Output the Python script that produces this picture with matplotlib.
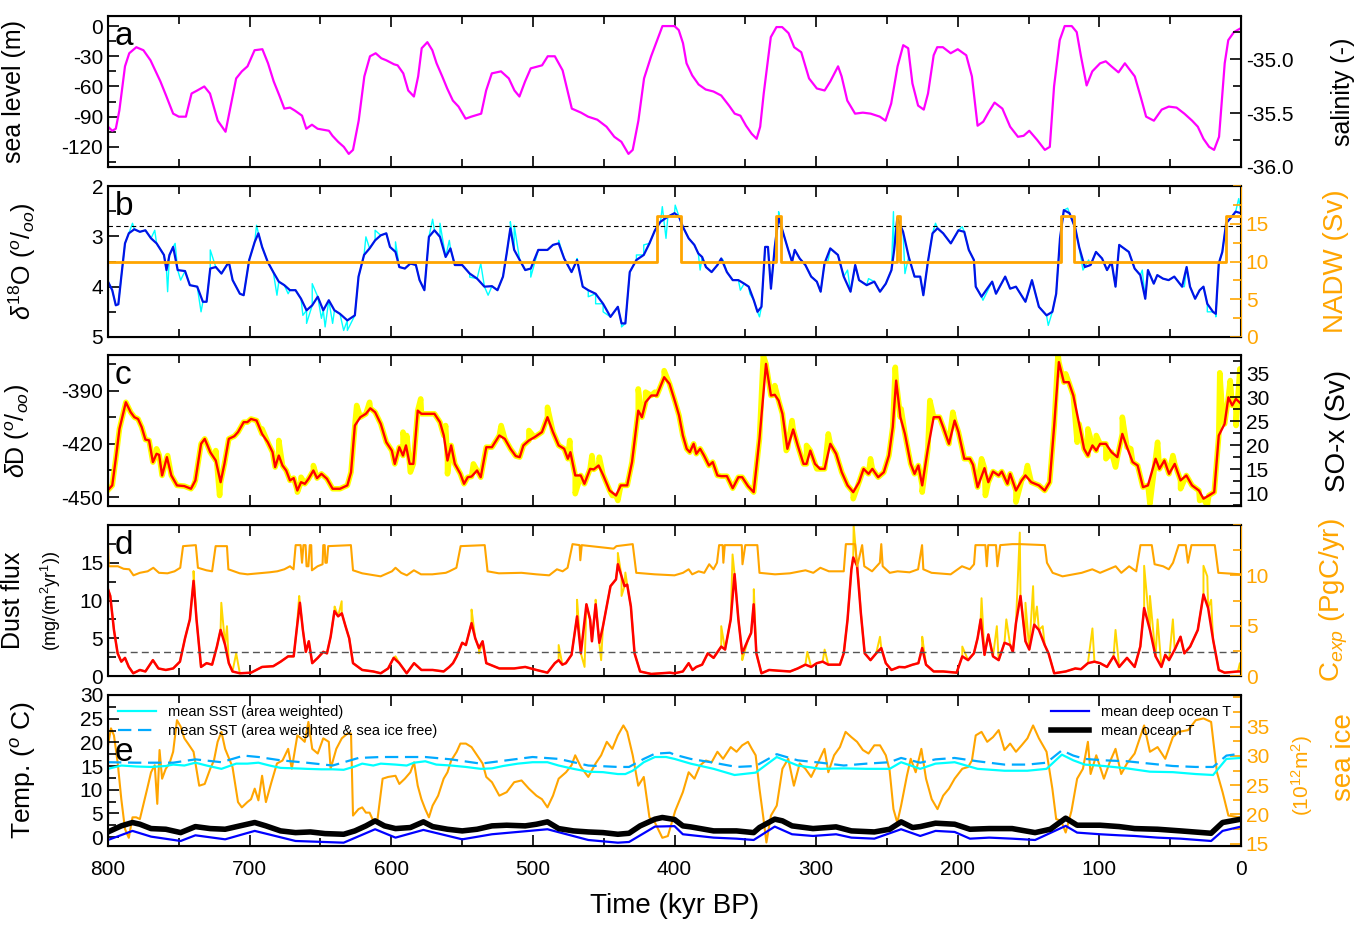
import numpy as np
import matplotlib
matplotlib.use('Agg')
import matplotlib.pyplot as plt
from matplotlib.ticker import MultipleLocator, FormatStrFormatter

plt.rcParams['font.family'] = ['Liberation Sans', 'DejaVu Sans']
plt.rcParams['mathtext.fontset'] = 'custom'
plt.rcParams['mathtext.rm'] = 'Liberation Sans'
plt.rcParams['mathtext.it'] = 'Liberation Sans:italic'
plt.rcParams['axes.unicode_minus'] = False

# ---- a: sea level (m) ----
sl_t = [800, 797, 794.5, 792, 788, 785, 780, 775, 770, 763, 759, 754, 750, 745, 741, 737, 732, 728, 722.5, 717,
        713, 709.5, 705.5, 701.5, 696.5, 691, 687, 683, 679, 675.5, 671.5, 668, 663, 660, 656, 652, 644, 641.5,
        637.5, 633.5, 630, 627, 623, 619, 615, 611, 607, 603.5, 598, 595.5, 591.5, 588, 584, 581, 578.5, 574.5,
        571, 568, 564, 560.5, 556.5, 552.5, 547.5, 543.5, 536.5, 533, 529, 522.5, 517, 513, 509.5, 505.5, 501.5,
        496, 493.5, 489.5, 484.5, 479, 472.5, 466, 461, 454.5, 448, 442.5, 437.5, 432.5, 429.5, 425.5, 421.5,
        416.5, 408.5, 400, 397, 394, 391.5, 387.5, 383, 378, 372.5, 367, 361.5, 357.5, 353.5, 349.5, 345.5, 342,
        339.5, 337, 332, 328, 324, 319.5, 315.5, 310.5, 305, 299.5, 294, 290, 284.5, 282, 278, 272.5, 267, 261.5,
        255, 251, 247, 242.5, 238.5, 235, 232, 228, 224, 221, 217, 214.5, 210.5, 205, 200, 194, 190, 186, 182,
        178, 174, 168.5, 163, 157.5, 153.5, 149.5, 144, 138.5, 135, 132, 128, 124.5, 119.5, 116, 113, 109, 105,
        99.5, 95.5, 91.5, 86.5, 82, 75, 70.5, 67, 61.5, 56, 51, 45.5, 40, 34.5, 30.5, 26.5, 22.5, 19, 15.5, 11.5,
        9, 5, 0]
sl_v = [-100, -104, -102, -84, -40, -27, -21, -24, -34, -55, -69, -87, -90, -90, -67, -64, -60, -67, -94, -105,
        -77, -52, -45, -40, -24, -23, -37, -55, -69, -82, -81, -84, -89, -102, -98, -102, -104, -109, -115, -120,
        -127, -123, -94, -50, -30, -27, -32, -34, -38, -39, -47, -64, -70, -50, -22, -16, -24, -37, -50, -62,
        -74, -80, -92, -90, -87, -64, -47, -45, -52, -64, -70, -55, -42, -40, -39, -30, -30, -44, -82, -86, -90,
        -93, -100, -110, -115, -127, -123, -94, -52, -30, 0, 0, -4, -17, -37, -49, -58, -63, -65, -69, -79, -87,
        -89, -99, -107, -112, -100, -67, -11, -1, -1, -7, -21, -26, -52, -62, -64, -55, -40, -50, -74, -87, -86,
        -87, -90, -94, -77, -40, -19, -22, -57, -79, -83, -67, -29, -21, -21, -27, -23, -29, -50, -99, -95, -85,
        -76, -82, -100, -110, -109, -104, -113, -123, -120, -60, -14, 0, 0, -6, -30, -59, -45, -37, -35, -40, -46,
        -37, -50, -72, -90, -94, -83, -80, -81, -87, -94, -100, -112, -120, -123, -110, -37, -14, -6, -2]

# ---- b: d18O (permil), NADW (Sv) ----
d18_t = [800, 797, 794.5, 792.7, 790.6, 788, 785.3, 781.4, 777.5, 773.6, 769.6, 765.7, 760.5, 758.7, 756.6, 754,
         750.8, 745.6, 742.2, 737, 733, 730.4, 727.8, 723.9, 719.9, 714.7, 712, 706.9, 704.2, 700.3, 696.4, 693.8,
         691.2, 687.2, 683.3, 679.4, 675.5, 671.5, 667.6, 663.7, 659.8, 655.8, 651.9, 648, 644.1, 640.1, 636.2,
         631, 625.7, 623.1, 619.2, 615.3, 611.4, 607.4, 603.5, 600.9, 597, 594.3, 590.4, 586.5, 582.6, 580, 576.6,
         573.4, 569.5, 565.6, 561.6, 558.2, 555.1, 549.9, 544.6, 539.4, 534.2, 528.9, 525, 521.1, 518.5, 515.9,
         513.2, 509.3, 505.4, 501.5, 496.2, 489.7, 485.8, 481.8, 477.9, 472.7, 468.8, 464.8, 460.9, 455.7, 450.4,
         445.2, 440, 437.4, 434.7, 431.6, 426.9, 421.7, 417.7, 413.8, 409.9, 404.7, 400, 396.8, 394.1, 390, 386,
         383.2, 380.5, 377.8, 373.8, 369.7, 367, 363, 358.9, 354.9, 350.8, 347.6, 344, 341.4, 338.6, 336, 334,
         331.9, 329.2, 326.5, 323.8, 319.7, 317, 315.1, 311.6, 307.6, 303.5, 299.5, 296.8, 294.1, 290, 284.6,
         280.5, 275.7, 272.4, 269.7, 264.3, 258.9, 254.9, 250.8, 246.8, 244.9, 242.7, 238.6, 234.6, 230.5, 226.5,
         224.3, 221.1, 217.8, 214.3, 210.3, 204.9, 199.5, 195.4, 192.2, 188.6, 187.3, 183.2, 175.7, 173, 166.5,
         163, 158.9, 152.2, 147.6, 142.7, 137.3, 133.2, 130.5, 127.8, 125.1, 121.1, 117, 114.3, 110.3, 106.2,
         102.4, 98.1, 94.6, 91.4, 88.6, 86, 79.2, 75.1, 71.1, 67.6, 65.7, 61.6, 59.1, 55.1, 51.1, 47.1, 41.6,
         38.4, 36, 32.4, 29.2, 26.5, 23.8, 19.8, 17.8, 15.7, 13.2, 10.5, 6.5, 3.8, 0]
d18_v = [3.90, 4.07, 4.37, 4.35, 3.80, 3.14, 2.94, 2.86, 2.91, 2.88, 3.04, 3.14, 3.37, 3.67, 3.37, 3.21, 3.67,
         3.69, 3.97, 4.00, 4.30, 4.30, 3.64, 3.61, 3.74, 3.51, 3.87, 4.14, 4.17, 3.47, 3.11, 2.94, 3.21, 3.51,
         3.71, 3.90, 3.97, 4.07, 4.07, 4.24, 4.47, 4.37, 4.20, 4.47, 4.27, 4.47, 4.54, 4.67, 4.57, 3.80, 3.37,
         3.24, 3.08, 2.98, 2.94, 3.21, 3.31, 3.61, 3.64, 3.54, 3.57, 3.87, 4.07, 3.01, 2.88, 3.01, 3.41, 3.24,
         3.57, 3.57, 3.74, 3.84, 4.00, 3.99, 4.07, 3.80, 3.34, 2.84, 3.27, 3.47, 3.67, 3.64, 3.27, 3.27, 3.17,
         3.14, 3.44, 3.71, 3.47, 4.00, 4.07, 4.14, 4.34, 4.60, 4.40, 4.73, 4.73, 3.71, 3.47, 3.37, 3.14, 2.88,
         2.71, 2.61, 2.54, 2.61, 2.81, 3.04, 3.17, 3.34, 3.41, 3.61, 3.71, 3.57, 3.44, 3.71, 3.87, 3.87, 3.94,
         4.00, 4.27, 4.50, 4.40, 3.21, 3.21, 4.04, 3.21, 2.61, 2.88, 3.27, 3.51, 3.27, 3.44, 3.57, 3.80, 3.90,
         4.10, 3.54, 3.24, 3.37, 3.80, 4.10, 3.57, 3.87, 3.97, 3.90, 4.10, 3.94, 3.67, 3.27, 2.64, 2.91, 3.41,
         3.80, 3.80, 4.17, 3.51, 2.94, 2.84, 2.94, 3.14, 2.88, 2.91, 3.27, 3.47, 4.00, 4.20, 3.90, 4.14, 3.80,
         4.04, 4.00, 4.30, 3.87, 4.40, 4.57, 4.50, 4.14, 3.04, 2.48, 2.54, 2.84, 3.21, 3.61, 3.57, 3.31, 3.44,
         3.67, 3.51, 4.00, 3.17, 3.31, 3.64, 3.77, 4.24, 3.67, 3.94, 3.77, 3.84, 3.87, 3.80, 4.00, 3.61, 4.00,
         4.24, 4.07, 4.00, 4.34, 4.50, 4.54, 3.54, 3.31, 2.74, 2.61, 2.51, 2.54]
# raw (unsmoothed) record: extra excursions around the smoothed curve
d18raw_t = [782.7, 767, 757.9, 752.6, 748.7, 734.3, 727.8, 695.1, 680.7, 672.8, 662.4, 659.8, 655.8, 649.3,
            646.7, 641.4, 633.6, 631, 617.9, 611.4, 597, 570.8, 565.6, 559, 544.6, 536.8, 531.6, 515.9, 513.2,
            501.5, 481.8, 468.8, 460.9, 455.7, 450.4, 437.4, 426.9, 421.7, 408.6, 406, 399.5, 381.9, 365.7,
            353.5, 346.8, 340, 326.5, 291.4, 277.8, 263, 245.4, 237.3, 215.7, 196.8, 182.2, 149.5, 136.1, 122.4,
            111.6, 107.6, 69.7, 40, 23.8, 17.8, 1.6]
d18raw_v = [2.74, 2.88, 4.10, 3.14, 3.87, 4.50, 3.27, 2.78, 4.17, 4.14, 4.57, 4.73, 3.94, 4.63, 4.80, 4.73,
            4.87, 4.87, 3.01, 2.88, 3.11, 2.66, 2.74, 3.08, 3.81, 3.54, 4.17, 2.71, 2.78, 3.81, 3.08, 3.44, 4.20,
            4.34, 4.50, 4.80, 3.37, 3.17, 2.41, 3.04, 2.38, 3.67, 3.47, 4.07, 4.14, 4.60, 2.51, 3.47, 3.67, 3.84,
            2.51, 3.74, 2.74, 2.81, 4.27, 4.07, 4.77, 2.44, 3.67, 3.47, 3.67, 4.00, 4.50, 4.60, 2.25]
nadw_t = [800, 412.5, 395.4, 328.4, 324.6, 243.2, 240.5, 127.3, 117.6, 10.8, 0]
nadw_v = [10, 16, 10, 16, 10, 16, 10, 16, 10, 16, 16]
d18_ref = 2.8

# ---- c: dD (permil) ----
dD_t = [800, 797, 794.5, 791.9, 787.4, 784, 781.4, 778.8, 776.2, 773.6, 771, 768.3, 765.7, 763.9, 761.8, 758.4,
        755.3, 751.3, 746.1, 741.4, 738.3, 734.3, 731.7, 727.8, 723.9, 720.5, 717.8, 714.7, 710.8, 708.2, 704.2,
        701.6, 699, 695.1, 691.2, 687.2, 683.8, 682, 679.4, 676.8, 674.2, 671.5, 668.9, 666.3, 663.7, 661, 658.4,
        655, 652.4, 649.3, 645.4, 641.4, 636.2, 631, 628.4, 625.7, 621.8, 617.9, 614.8, 611.4, 607.4, 603.5,
        599.6, 597.5, 594.3, 591.7, 589.6, 587, 584.4, 581.3, 578.7, 573.4, 569.5, 565.6, 562.9, 560.3, 557.7,
        555.1, 551.2, 548.6, 546, 543.3, 539.4, 536.8, 532.9, 528.9, 523.7, 519.8, 515.8, 512.1, 509.3, 506.7,
        502.8, 498.9, 493.6, 489.7, 485.8, 481.8, 477.9, 475.3, 473.5, 470.1, 466.2, 463.6, 459.6, 457, 453.6,
        450.5, 445.8, 441.3, 437.9, 433.4, 430, 425.6, 423, 420.4, 416.4, 412.5, 407.3, 403.5, 399.5, 396.8,
        394.1, 391.4, 389.2, 386.5, 384.6, 381.9, 379.2, 375.7, 373, 369.7, 367, 363, 358.9, 354.9, 352.2, 348.1,
        344.1, 340, 335.4, 331.9, 329.2, 326.5, 323.8, 320.3, 316.2, 313, 308.9, 306.8, 304.1, 300.8, 297.3, 294,
        290, 285.9, 281.9, 277.8, 273.8, 269.7, 266.5, 263, 260.3, 256.2, 252.2, 248.6, 245.9, 243.5, 240.5,
        237.3, 233.2, 230.5, 227.8, 225.1, 221.1, 217, 212.9, 210.3, 206.2, 202.2, 199.5, 195.4, 191.4, 189.2,
        186, 181.1, 178.4, 175.1, 171.1, 168.9, 164.9, 163, 158.9, 154.9, 152.2, 148.1, 142.7, 138.6, 135.1,
        131.9, 128.6, 125.1, 121.6, 118.4, 114.3, 110.8, 108.1, 104.9, 102.2, 99.5, 95.4, 91.4, 87.3, 83.8, 80.5,
        76.5, 73, 69.2, 65.7, 60.3, 57.6, 54.1, 50.8, 46.8, 42.7, 38.6, 34.6, 29.7, 26.5, 22.7, 18.9, 15.7, 11.6,
        8.9, 6.2, 3.6, 0]
dD_v = [-446, -443.4, -428.4, -411.6, -396.6, -402.2, -405, -406, -410.6, -417.6, -418.1, -430.3, -425.6, -426.2,
        -437.8, -427.5, -437.8, -443.4, -443.8, -445.3, -440.6, -420, -417.2, -424.7, -429.4, -441.6, -431.3,
        -417.2, -415.7, -413.4, -407.8, -407.8, -406, -406.9, -414.4, -419.1, -424.7, -433.1, -426.6, -432.2,
        -435, -440.6, -439.3, -446.3, -441.6, -442.5, -439.7, -435, -439.3, -436.9, -439.7, -445.3, -445.3,
        -443.4, -436, -409.7, -405, -403.1, -400, -402.2, -408.8, -419.1, -423.8, -431.3, -421.9, -426.6, -420.9,
        -431.3, -431.3, -401.3, -403.1, -403.1, -403.1, -407.8, -415.3, -429.4, -420.9, -431.3, -436.9, -442.5,
        -438.8, -438.4, -435, -438.8, -421.9, -421.9, -415.3, -417.2, -422.8, -426.9, -427.5, -420.9, -418.1,
        -416.3, -413.4, -405, -413.4, -420.9, -422.8, -428.4, -424.7, -437.8, -437.8, -442.5, -434.1, -434.4,
        -432.2, -437.4, -446.3, -449.1, -443.4, -443.4, -430.3, -401.3, -405, -396.6, -392.8, -392.8, -382.5,
        -386.3, -396.6, -404, -415.3, -422.8, -424.7, -420, -425.6, -422.8, -426.6, -432.2, -430.3, -437.8,
        -438.2, -438.2, -445, -438.8, -438.8, -443.8, -447.2, -417.2, -375, -392.8, -392.4, -395.6, -403.1,
        -422.8, -411.9, -420.9, -431.3, -431.3, -423.8, -431.3, -434.1, -434.1, -420, -425.6, -436, -443.4,
        -447.2, -441.6, -434.1, -436.9, -434.1, -438.8, -436, -426.6, -410.6, -384.4, -405, -414.4, -431.3,
        -436.9, -432.2, -443.4, -422.8, -405, -405, -410.6, -420, -406.9, -413.4, -428.4, -428.4, -431.8,
        -444.4, -433.7, -441.6, -435.6, -437.8, -435.6, -442.5, -436.9, -446.3, -440.6, -437.8, -441.6, -443.4,
        -446.3, -441.6, -409.7, -374, -385.3, -385.3, -392.8, -408.8, -422.8, -426.6, -420.9, -423.8, -420,
        -420, -424.7, -427.5, -414.4, -421.9, -430.3, -432.2, -444.4, -443.4, -428.4, -434.1, -429.4, -436.9,
        -431.3, -440.6, -437.8, -443.4, -446.3, -450.9, -449.1, -447.2, -415.3, -408.8, -393.8, -398.4, -394.7,
        -397.5]
# SO-x record shown on the same scale, with its extra excursions
sox_t = [765.7, 757.9, 739.6, 723.9, 721.2, 691.2, 679.4, 666.3, 663.7, 655, 624.4, 615.3, 591.7, 589.1, 586.5,
         579.2, 561.6, 560.3, 542, 522.4, 502.8, 489.7, 474, 470.1, 458.3, 453.1, 443.9, 440, 425.6, 420.4, 413.8,
         407.3, 337.3, 329.2, 321.1, 317, 306.8, 299.5, 291.4, 273.8, 261.6, 244.1, 240, 225.1, 219.7, 203.5,
         196.8, 183.2, 180.5, 158.9, 150.8, 129.2, 123.8, 115.7, 108.1, 102.2, 95.4, 88.6, 83.8, 77.8, 64.3, 58.9,
         48.1, 42.7, 29.2, 23.8, 15, 13, 7.6, 3.5, 0.8]
sox_v = [-422.8, -426.6, -443.4, -423.8, -449.1, -411.6, -418.1, -447.2, -438.8, -432.2, -398.4, -396.6, -413.4,
         -415.3, -435.9, -394.7, -409.7, -436.9, -431.3, -409.7, -412.5, -399.4, -418.1, -448.1, -426.6, -427.5,
         -449.1, -451.9, -389.1, -390.9, -390.9, -378.8, -370.3, -387.2, -423.8, -406.9, -420.9, -434.1, -414.4,
         -450.9, -428.4, -376.9, -400.3, -447.2, -395.6, -402.2, -422.8, -428.4, -449.1, -452.8, -432.2, -369.4,
         -380.6, -419.1, -411.6, -415.3, -428.4, -433.1, -405.0, -422.8, -453.8, -419.1, -426.6, -445.3, -451.9,
         -454.7, -380, -404.1, -384.4, -409.7, -377.8]

# ---- d: dust flux, C_exp ----
dust_t = [800, 798.4, 795.8, 793.2, 790.6, 788, 785.3, 782.2, 777.5, 773.6, 768.3, 764.4, 759.2, 754, 749.2,
          745.6, 742.2, 739.6, 737.5, 734.3, 730.4, 726.5, 723.1, 720.5, 717.3, 714.7, 712.1, 706.9, 699, 691.2,
          683.3, 678.1, 672.8, 668.9, 666.8, 664.5, 662.4, 660.3, 658.2, 655.8, 651.9, 648, 645.4, 642.8, 640.1,
          637.5, 634.9, 632.3, 629.7, 627, 620.5, 612.7, 607.4, 602.2, 598.3, 594.3, 589.1, 583.9, 578.7, 570.8,
          563, 559, 556.4, 553.8, 549.9, 547.3, 543.3, 540.7, 538.1, 535.5, 532.9, 523.7, 513.2, 505.4, 497.5,
          489.7, 484.5, 481.8, 479.2, 476.7, 472.7, 468.8, 466.1, 462.2, 459.6, 458.3, 455.7, 453.1, 450.5, 445.2,
          441.3, 440, 437.4, 435.3, 433.4, 430.8, 428.2, 424.3, 416.4, 403.3, 400, 394.1, 390, 387.3, 384.6, 380.5,
          376.5, 372.4, 367, 364.3, 360.3, 357.6, 354.9, 352.2, 348.1, 345.9, 344.1, 342.2, 338.6, 333.2, 326.5,
          318.4, 313, 307.6, 303.5, 299.5, 295.4, 291.4, 283.2, 280.5, 277.8, 275.1, 273.8, 271.1, 268.4, 265.7,
          261.6, 257.6, 254, 250.8, 246.8, 241.4, 237.3, 231.9, 227.8, 225.1, 222.4, 217, 210.3, 200.8, 196.8,
          192.7, 188.6, 186, 183.8, 181.1, 178.4, 175.1, 171.1, 167, 163, 161.1, 158.9, 155.7, 152.2, 149.5, 146,
          142.7, 138.6, 135.9, 131.9, 123.8, 117, 113, 108.1, 103.5, 99.5, 94.6, 90, 86, 80.5, 75.1, 71.1, 68.4,
          64.3, 60.3, 56.2, 53.5, 50.8, 46.8, 42.7, 40, 35.9, 30.5, 26.5, 23.2, 19.7, 15.7, 11.6, 2.2, 0]
dust_v = [11.5, 10.6, 6.1, 3.0, 1.9, 2.4, 1.2, 0.36, 0.8, 0.6, 2.1, 1.0, 0.8, 1.0, 1.9, 5.0, 7.5, 12.6, 7.5, 1.2,
          1.7, 1.5, 3.9, 6.1, 4.1, 1.7, 0.6, 0.36, 0.44, 1.2, 1.3, 1.9, 2.6, 2.6, 6.1, 9.7, 6.1, 3.2, 4.6, 1.7, 2.4,
          3.2, 3.0, 5.2, 8.6, 7.9, 8.3, 6.6, 5.0, 1.7, 0.8, 0.6, 0.36, 1.0, 2.4, 1.7, 0.36, 1.7, 0.8, 0.8, 0.6, 1.2,
          1.7, 2.6, 4.4, 4.1, 7.0, 5.0, 3.7, 4.6, 1.7, 1.0, 1.0, 1.2, 0.8, 0.44, 1.7, 2.1, 1.5, 1.7, 2.8, 7.9, 3.0,
          9.5, 7.5, 4.6, 9.5, 4.4, 6.6, 11.9, 12.8, 14.8, 13.2, 11.9, 12.1, 9.2, 3.0, 0.6, 0.27, 0.44, 0.36, 0.6,
          1.7, 0.8, 1.2, 1.5, 3.0, 2.4, 3.9, 3.5, 7.5, 13.5, 7.5, 3.0, 4.8, 5.7, 9.5, 3.0, 0.36, 0.8, 0.7, 0.6, 1.0,
          1.5, 1.2, 1.7, 1.9, 1.5, 1.5, 3.0, 7.5, 14.1, 15.7, 14.6, 8.3, 3.0, 2.1, 3.0, 3.7, 1.7, 0.8, 1.2, 1.15,
          1.5, 1.7, 3.7, 1.5, 0.6, 0.6, 0.44, 2.6, 2.1, 3.0, 5.0, 7.5, 2.8, 5.5, 2.6, 2.1, 4.4, 4.1, 3.2, 7.0,
          10.6, 4.6, 3.5, 6.8, 6.1, 4.1, 3.0, 0.36, 0.6, 1.0, 0.9, 1.7, 1.9, 1.7, 1.2, 2.6, 1.2, 2.4, 1.2, 3.9,
          9.0, 6.1, 2.6, 1.2, 2.8, 2.1, 3.5, 5.2, 3.0, 3.9, 6.1, 10.8, 9.0, 4.8, 0.8, 0.44, 0.6, 0.6]
dustraw_t = [739.6, 720, 716, 709.5, 665, 640, 635, 597, 543.3, 538, 481.8, 468.8, 463.5, 455.7, 451.8, 440,
             437.4, 434.7, 367, 359, 352.2, 344, 306.2, 294, 273.5, 269.7, 254.9, 225.1, 196.8, 183.2, 172.4,
             165.7, 156.2, 152.2, 146.8, 144.1, 140, 104.9, 88.6, 68.4, 64.3, 58.9, 48.1, 26.5, 23.8, 21.1, 0.8]
dustraw_v = [13.9, 9.7, 6.6, 3.0, 10.6, 9.2, 9.9, 2.6, 8.8, 3.0, 4.1, 10.1, 1.2, 10.1, 2.1, 16.3, 10.6, 13.7,
             6.6, 16.1, 2.1, 11.5, 3.2, 3.5, 20.0, 11.9, 5.2, 5.2, 3.9, 10.3, 6.6, 7.5, 19.0, 9.7, 11.9, 9.2, 6.6,
             6.3, 6.1, 14.6, 10.6, 7.5, 7.5, 14.6, 13.2, 10.1, 1.7]
cexp_t = [800, 799.5, 793, 789, 785, 782, 777.5, 772, 768, 764, 758, 753, 749, 747, 738, 736.5, 730.5, 726.5, 724,
          716, 715, 711, 707, 701.5, 694, 686, 680.5, 675.5, 671.5, 669, 667.5, 664, 663, 662, 660.5, 659.8, 658.5,
          657.5, 656.5, 656, 652, 648.5, 648, 647, 646.5, 645.5, 644.5, 628.5, 627, 620.5, 607.5, 599.5, 597, 593,
          589, 584, 579, 571, 561.5, 559, 554, 551, 534, 532, 524, 508, 497.5, 488.5, 483, 479, 475.5, 472, 467,
          466.5, 465.5, 443, 441, 429.5, 427, 414, 400, 394, 390, 387.5, 383, 379, 375.5, 372.5, 370, 368.5, 366,
          365.5, 364.5, 352.5, 352, 350, 341.5, 340, 329, 318.5, 307.5, 302, 297, 291, 280.5, 279, 272.5, 271,
          267.5, 266, 260.5, 255, 254, 253, 248, 242.5, 234, 228, 225.2, 224.3, 218.5, 205, 197, 191.5, 188.5,
          187.5, 180.5, 179.5, 178.5, 173, 172, 170, 161.5, 156, 138.5, 137, 133, 126, 112.5, 105, 99.5, 88.5,
          84.5, 79, 74, 71, 63, 61, 55, 51, 48, 44, 39, 37.5, 35, 18.5, 16, 0]
cexp_v = [13.1, 10.9, 10.9, 10.65, 10.6, 10.0, 10.25, 10.4, 10.75, 10.25, 10.2, 10.4, 10.75, 12.9, 13.0, 10.75,
          10.5, 10.4, 12.9, 12.9, 10.6, 10.4, 10.2, 10.1, 10.2, 10.3, 10.4, 10.6, 10.9, 10.6, 13.0, 13.0, 11.25,
          13.0, 13.0, 10.9, 10.9, 13.0, 13.0, 10.5, 10.9, 11.1, 13.0, 13.0, 11.25, 11.25, 12.9, 13.0, 10.5, 10.2,
          9.9, 10.4, 10.75, 10.25, 10.0, 10.5, 10.1, 10.1, 10.25, 10.4, 10.75, 12.9, 13.0, 10.4, 10.2, 10.25, 10.1,
          10.0, 10.6, 10.4, 10.75, 13.1, 13.0, 11.5, 13.0, 12.65, 12.9, 13.1, 10.25, 10.1, 10.0, 10.25, 10.6,
          10.1, 10.4, 10.25, 11.1, 10.6, 11.25, 13.0, 13.0, 11.25, 13.0, 13.0, 11.1, 13.0, 13.0, 10.25, 10.1,
          10.2, 10.5, 10.25, 10.75, 10.4, 10.4, 13.1, 13.1, 10.9, 13.0, 10.9, 10.4, 11.25, 13.1, 10.9, 10.25,
          10.4, 10.3, 10.6, 13.0, 10.6, 10.25, 10.1, 10.9, 10.6, 11.1, 13.0, 13.0, 10.9, 13.0, 13.0, 10.9, 13.0,
          13.1, 13.1, 13.0, 11.25, 10.25, 9.9, 10.25, 10.6, 10.25, 10.9, 10.25, 10.9, 10.4, 13.0, 13.0, 11.1,
          10.9, 10.6, 11.25, 13.0, 13.0, 11.25, 13.0, 13.0, 10.25, 10.1]
dust_ref = 3.2

# ---- e: temperatures (deg C) and sea ice (1e12 m2) ----
sst_t = [800, 790.6, 780.1, 769.6, 759.2, 754, 746.1, 738.3, 730.4, 719.9, 709.5, 701.6, 693.8, 685.9, 678.1,
         667.6, 659.8, 649.3, 641.4, 633.6, 625.7, 620.5, 612.7, 607.4, 597, 589.1, 583.9, 576, 568.2, 557.7,
         547.3, 536.8, 528.9, 521.1, 510.6, 500.2, 489.7, 481.8, 471.4, 460.9, 450.4, 440, 434.7, 429.5, 421.7,
         413.8, 405.9, 400, 388.6, 372.4, 357.6, 342.7, 327.8, 313, 296.8, 280.5, 264.3, 248.1, 240, 226.5,
         215.7, 202.2, 186, 167, 150.8, 137.3, 126.5, 118.4, 110.3, 96.8, 80.5, 64.3, 48.1, 31.9, 19.7, 10.3, 0]
sst_v = [14.4, 15.1, 14.9, 14.8, 15.0, 15.3, 15.1, 15.7, 15.1, 14.4, 15.5, 15.5, 15.7, 15.1, 14.6, 14.5, 14.4,
         14.3, 14.3, 14.2, 14.9, 15.5, 15.1, 15.5, 15.3, 15.1, 15.7, 16.0, 15.3, 15.1, 14.8, 14.4, 14.5, 15.0,
         15.5, 15.8, 15.8, 15.1, 14.4, 13.8, 13.7, 13.3, 13.3, 14.0, 15.8, 16.9, 16.9, 16.5, 15.5, 14.4, 13.1,
         13.6, 16.9, 15.1, 14.4, 14.5, 14.4, 14.4, 15.8, 14.4, 15.5, 15.8, 14.4, 14.0, 14.0, 14.4, 17.4, 16.2,
         15.3, 15.0, 14.5, 13.8, 13.7, 13.3, 13.1, 16.5, 16.7]
sstf_t = [800, 780.1, 754, 738.3, 719.9, 704.2, 693.8, 678.1, 659.8, 641.4, 623.1, 607.4, 583.9, 576, 557.7, 536.8,
          518.5, 500.2, 481.8, 460.9, 440, 432.1, 421.7, 413.8, 403.3, 400, 388.6, 372.4, 356.2, 342.7, 327.8,
          313, 296.8, 280.5, 264.3, 248.1, 240, 226.5, 215.7, 202.2, 186, 167, 150.8, 137.3, 126.5, 118.4, 110.3,
          96.8, 80.5, 64.3, 48.1, 31.9, 19.7, 10.3, 0]
sstf_v = [15.8, 15.7, 15.7, 16.4, 15.8, 17.2, 16.9, 16.2, 15.7, 15.1, 16.7, 16.9, 16.9, 16.9, 16.4, 15.5, 16.2,
          16.9, 16.5, 15.1, 14.8, 14.8, 16.5, 17.6, 17.8, 17.4, 16.5, 15.7, 14.8, 15.0, 17.5, 16.2, 15.7, 15.1,
          15.5, 15.8, 16.7, 15.7, 16.4, 16.7, 16.0, 15.3, 15.3, 15.7, 18.3, 17.2, 16.5, 16.2, 16.0, 15.5, 15.0,
          14.8, 14.8, 17.2, 17.6]
tocn_t = [800, 790.6, 782.7, 777.5, 769.6, 759.2, 748.7, 738.3, 727.8, 717.3, 706.9, 696.4, 688.5, 678.1, 667.6,
          657.1, 646.7, 633.6, 625.7, 617.9, 611.4, 604.8, 597, 586.5, 577.3, 570.8, 560.3, 549.9, 539.4, 528.9,
          518.5, 505.4, 497.5, 489.7, 481.8, 471.4, 460.9, 450.4, 440, 432.1, 424.3, 413.8, 408.6, 400, 394.1,
          388.6, 372.4, 356.2, 344.1, 340, 329.2, 323.8, 317, 302.2, 285.9, 275.1, 258.9, 248.1, 240, 231.9,
          226.5, 215.7, 202.2, 191.4, 177.8, 161.6, 145.4, 134.6, 123.8, 115.7, 99.5, 86, 75.1, 58.9, 42.7, 21.1,
          13, 0]
tocn_v = [1.07, 2.35, 3.06, 2.7, 1.78, 1.64, 0.93, 2.2, 1.78, 1.64, 2.35, 3.06, 2.35, 1.29, 0.93, 1.07, 0.72,
          0.58, 1.29, 2.35, 3.41, 2.35, 1.78, 2.0, 3.2, 2.2, 1.64, 1.29, 1.64, 2.35, 2.49, 2.35, 2.7, 3.2, 1.78,
          1.29, 1.07, 0.93, 0.58, 0.79, 2.35, 3.77, 4.12, 3.7, 2.35, 2.14, 1.29, 1.29, 0.93, 2.0, 3.77, 3.41, 2.35,
          1.78, 2.14, 1.29, 1.07, 1.64, 3.2, 2.0, 2.2, 2.92, 2.7, 1.64, 1.78, 1.78, 0.93, 1.64, 3.98, 2.49, 2.49,
          2.2, 1.78, 1.64, 1.29, 0.79, 3.06, 3.77]
tdeep_t = [800, 782.7, 769.6, 748.7, 738.3, 717.3, 696.4, 667.6, 633.6, 611.4, 597, 577.3, 549.9, 528.9, 489.7,
           460.9, 440, 432.1, 413.8, 400, 394.1, 372.4, 356.2, 344.1, 329.2, 317, 302.2, 285.9, 275.1, 258.9, 240,
           226.5, 215.7, 202.2, 191.4, 177.8, 161.6, 145.4, 123.8, 115.7, 99.5, 86, 75.1, 58.9, 42.7, 21.1, 13, 0]
tdeep_v = [-0.63, 1.29, 0.08, -0.84, 0.36, -0.49, 1.29, -0.84, -1.2, 1.64, -0.13, 1.5, -0.49, 0.58, 1.64, -0.63,
           -1.2, -1.05, 2.2, 2.3, 0.58, -0.13, -0.35, -0.63, 2.2, 0.58, 0.22, 0.58, -0.13, -0.35, 1.64, 0.22,
           1.29, 1.07, -0.35, -0.13, -0.35, -0.63, 2.35, 0.93, 0.58, 0.36, 0.22, -0.13, -0.35, -0.84, 1.29, 2.2]
ice_t = [800, 797.9, 795.8, 793.2, 790.6, 788, 785.3, 782.7, 780.1, 777.5, 774.9, 772.3, 769.6, 767, 765.2, 763.6,
         761.8, 759.2, 756.6, 754, 751.3, 748.7, 746.1, 743.5, 739.6, 735.6, 731.7, 727.8, 725.2, 722.6, 719.9,
         717.3, 712.1, 708.2, 705.5, 701.6, 699, 696.4, 693.8, 691.2, 688.5, 684.6, 680.7, 676.8, 672.8, 670.2,
         666.3, 663.7, 661.1, 658.5, 655.8, 651.9, 648, 644.1, 642.8, 638.8, 634.9, 631, 628.4, 627, 623.1, 620.5,
         617.9, 615.3, 612.7, 610, 606.1, 602.2, 597, 594.3, 590.4, 586.5, 583.9, 581.3, 578.7, 576, 573.4, 570.8,
         566.9, 563, 560.3, 557.7, 553.8, 551.2, 547.3, 543.3, 539.4, 535.5, 532.9, 528.9, 523.7, 518.5, 513.2,
         508, 502.8, 497.5, 493.6, 489.7, 485.8, 481.8, 476.6, 472.7, 470.1, 466.1, 460.9, 455.7, 451.8, 447.8,
         443.9, 440, 436.1, 433.4, 429.5, 425.6, 421.7, 417.7, 413.8, 408.6, 404.7, 399.5, 394.1, 390, 385.9,
         381.9, 377.8, 373.8, 369.7, 365.7, 360.3, 356.2, 352.2, 348.1, 345.4, 342.7, 340, 337.3, 335.1, 331.9,
         327.8, 323.8, 319.7, 315.7, 311.6, 307.6, 303.5, 299.5, 294.1, 291.4, 287.3, 283.2, 279.2, 275.1, 271.1,
         267, 263, 258.9, 254.9, 250.8, 248.1, 245.4, 242.7, 240, 235.9, 233.2, 229.7, 225.7, 222.4, 218.4,
         214.3, 210.3, 206.2, 202.2, 196.8, 192.7, 190, 187.3, 183.2, 179.2, 175.1, 171.1, 167, 163, 158.9,
         154.9, 150.8, 146.8, 142.7, 137.3, 133.2, 130.5, 127, 123.8, 119.7, 115.7, 111.6, 108.1, 106.2, 102.2,
         96.8, 92.7, 88.6, 84.6, 80.5, 75.1, 68.4, 64.3, 58.9, 53.5, 48.1, 44, 37.3, 31.9, 26.5, 21.1, 17, 13,
         8.9, 0.8]
ice_v = [31.8, 34.7, 33.5, 28.9, 22.6, 17.5, 16.0, 19.5, 19.5, 19.2, 21.8, 24.4, 27.2, 28.4, 21.8, 31.0, 26.1,
         27.8, 28.7, 30.7, 36.1, 35.0, 33.0, 32.1, 30.7, 24.9, 25.2, 27.8, 29.2, 32.4, 34.1, 31.2, 28.1, 22.1,
         21.2, 22.1, 22.6, 24.4, 22.4, 26.6, 22.1, 25.5, 28.7, 29.2, 31.2, 27.8, 33.5, 33.0, 32.4, 35.8, 31.2,
         30.4, 33.0, 32.4, 27.8, 31.2, 33.0, 33.8, 33.8, 19.8, 20.9, 21.2, 20.3, 20.3, 18.9, 18.6, 26.1, 26.4,
         26.6, 25.2, 26.1, 27.2, 28.9, 24.9, 22.6, 20.9, 19.5, 21.5, 23.2, 26.1, 27.2, 29.2, 30.7, 32.1, 32.1,
         31.5, 30.1, 28.7, 26.4, 25.5, 23.2, 23.8, 25.5, 25.8, 24.4, 23.2, 22.6, 21.2, 23.2, 26.1, 27.2, 28.4,
         30.1, 28.1, 26.4, 28.7, 30.1, 32.4, 31.2, 33.5, 35.2, 34.1, 30.1, 24.9, 26.4, 19.5, 18.6, 16.0, 16.3,
         20.6, 23.8, 27.2, 26.1, 28.4, 29.2, 28.9, 30.7, 29.5, 31.5, 30.7, 31.8, 32.4, 31.2, 30.1, 24.4, 19.5,
         15.2, 19.8, 21.5, 27.8, 29.5, 24.9, 28.7, 27.8, 26.4, 28.4, 31.2, 27.2, 30.1, 31.5, 34.1, 33.2, 32.4,
         31.0, 30.4, 31.8, 31.8, 30.1, 27.5, 20.9, 18.6, 21.5, 26.6, 29.5, 27.2, 31.2, 26.1, 22.6, 20.9, 23.2,
         24.4, 26.1, 27.8, 28.1, 29.2, 33.5, 34.1, 32.4, 33.2, 34.4, 31.0, 32.1, 30.7, 31.8, 33.0, 35.2, 33.0,
         30.7, 24.4, 19.2, 18.9, 16.9, 20.6, 26.1, 27.8, 32.4, 26.9, 30.1, 26.1, 28.9, 31.2, 26.9, 28.7, 30.4,
         35.2, 30.7, 31.5, 29.5, 33.2, 34.1, 34.4, 36.1, 36.4, 35.8, 27.2, 23.8, 19.8, 19.5]

ORANGE = '#FFA500'
TICK_FS = 15
LAB_FS = 18
L, W = 108 / 1359, 1133 / 1359


def merged(ta, va, tb, vb):
    t = np.concatenate([ta, tb])
    v = np.concatenate([va, vb])
    o = np.argsort(-t, kind='stable')
    return t[o], v[o]


def style(ax, ymaj, ymin, bottom_labels=False):
    ax.set_xlim(800, 0)
    ax.xaxis.set_major_locator(MultipleLocator(100))
    ax.xaxis.set_minor_locator(MultipleLocator(50))
    ax.yaxis.set_major_locator(MultipleLocator(ymaj))
    ax.yaxis.set_minor_locator(MultipleLocator(ymin))
    ax.tick_params(which='both', direction='in', top=True, right=False, width=1.2, labelsize=TICK_FS)
    ax.tick_params(which='major', length=8)
    ax.tick_params(which='minor', length=6)
    ax.tick_params(axis='x', labelbottom=bottom_labels)
    for s in ax.spines.values():
        s.set_linewidth(1.5)


def style_twin(tw, ymaj, ymin, color='black'):
    tw.yaxis.set_major_locator(MultipleLocator(ymaj))
    tw.yaxis.set_minor_locator(MultipleLocator(ymin))
    tw.tick_params(which='both', direction='in', width=1.2, labelsize=TICK_FS, colors=color)
    tw.tick_params(which='major', length=8)
    tw.tick_params(which='minor', length=6)


fig = plt.figure(figsize=(13.59, 9.25), dpi=100)
bottoms = [1 - 167 / 925, 1 - 337 / 925, 1 - 506 / 925, 1 - 676 / 925, 1 - 846 / 925]
H = 151 / 925
axs = [fig.add_axes([L, b, W, H]) for b in bottoms]

# a
ax = axs[0]
ax.plot(sl_t, sl_v, color='#FF00FF', lw=1.6)
ax.set_ylim(-140, 10)
style(ax, 30, 15)
ax.set_ylabel('sea level (m)', fontsize=LAB_FS)
ax.yaxis.set_label_coords(-0.072, 0.5)
tw = ax.twinx()
tw.set_ylim(-36.001, -34.60)
style_twin(tw, 0.5, 0.25)
tw.yaxis.set_major_formatter(FormatStrFormatter('%.1f'))
tw.set_ylabel('salinity (-)', fontsize=LAB_FS)
tw.yaxis.set_label_coords(1.079, 0.5)
ax.text(0.006, 0.97, 'a', transform=ax.transAxes, fontsize=24, va='top', ha='left')

# b
ax = axs[1]
rt, rv = merged(np.array(d18_t), np.array(d18_v), np.array(d18raw_t), np.array(d18raw_v))
ax.plot(rt, rv, color='#00FFFF', lw=1.0)
ax.plot(d18_t, d18_v, color='#0014E6', lw=1.6)
ax.axhline(d18_ref, color='black', lw=0.8, ls=(0, (4, 3)))
ax.set_ylim(5, 2)
style(ax, 1, 0.5)
ax.set_ylabel(r'$\delta^{18}$O ($^o/_{oo}$)', fontsize=LAB_FS)
ax.yaxis.set_label_coords(-0.062, 0.5)
tw = ax.twinx()
tw.step(nadw_t, nadw_v, where='post', color=ORANGE, lw=2)
tw.set_ylim(0, 20)
style_twin(tw, 5, 2.5, ORANGE)
tw.set_yticks([0, 5, 10, 15])
tw.spines['right'].set_color(ORANGE)
tw.set_ylabel('NADW (Sv)', fontsize=LAB_FS + 2, color=ORANGE)
tw.yaxis.set_label_coords(1.072, 0.5)
ax.text(0.006, 0.97, 'b', transform=ax.transAxes, fontsize=24, va='top', ha='left')

# c
ax = axs[2]
yt, yv = merged(np.array(dD_t), np.array(dD_v), np.array(sox_t), np.array(sox_v))
ax.plot(yt, yv, color='#FFFF00', lw=4.0)
ax.plot(dD_t, dD_v, color='#FF0000', lw=1.7)
ax.set_ylim(-455, -370)
style(ax, 30, 15)
ax.set_ylabel(r'$\delta$D ($^o/_{oo}$)', fontsize=LAB_FS)
ax.yaxis.set_label_coords(-0.067, 0.5)
tw = ax.twinx()
tw.set_ylim(7.3, 38.8)
style_twin(tw, 5, 2.5)
tw.set_ylabel('SO-x (Sv)', fontsize=LAB_FS + 2)
tw.yaxis.set_label_coords(1.074, 0.5)
ax.text(0.006, 0.97, 'c', transform=ax.transAxes, fontsize=24, va='top', ha='left')

# d
ax = axs[3]
gt, gv = merged(np.array(dust_t), np.array(dust_v), np.array(dustraw_t), np.array(dustraw_v))
ax.plot(gt, gv, color='#FFD700', lw=1.4)
ax.plot(dust_t, dust_v, color='#FF0000', lw=1.8)
ax.axhline(dust_ref, color='#555555', lw=1.0, ls=(0, (5, 3)))
ax.set_ylim(0, 20)
style(ax, 5, 2.5)
ax.set_yticks([0, 5, 10, 15])
ax.set_ylabel('Dust flux', fontsize=LAB_FS)
ax.yaxis.set_label_coords(-0.073, 0.5)
ax.text(-0.050, 0.5, r'(mg/(m$^2$yr$^1$))', transform=ax.transAxes, rotation=90,
        fontsize=13, ha='center', va='center')
tw = ax.twinx()
tw.plot(cexp_t, cexp_v, color=ORANGE, lw=1.5)
tw.set_ylim(0, 15)
style_twin(tw, 5, 2.5, ORANGE)
tw.set_yticks([0, 5, 10])
tw.spines['right'].set_color(ORANGE)
tw.set_ylabel(r'C$_{exp}$ (PgC/yr)', fontsize=LAB_FS + 2, color=ORANGE)
tw.yaxis.set_label_coords(1.068, 0.5)
ax.text(0.006, 0.97, 'd', transform=ax.transAxes, fontsize=24, va='top', ha='left')

# e
ax = axs[4]
tw = ax.twinx()
tw.plot(ice_t, ice_v, color=ORANGE, lw=1.5)
tw.set_ylim(14.6, 40.4)
style_twin(tw, 5, 2.5, ORANGE)
tw.set_yticks([15, 20, 25, 30, 35])
tw.set_ylabel('sea ice', fontsize=LAB_FS + 2, color=ORANGE)
tw.yaxis.set_label_coords(1.079, 0.59)
tw.text(1.054, 0.47, r'(10$^{12}$m$^2$)', transform=tw.transAxes, rotation=90, fontsize=15,
        color=ORANGE, ha='center', va='center')
ax.set_zorder(tw.get_zorder() + 1)
ax.patch.set_visible(False)
h1, = ax.plot(sst_t, sst_v, color='#00FFFF', lw=1.6, label='mean SST (area weighted)')
h2, = ax.plot(sstf_t, sstf_v, color='#00AAFF', lw=1.6, ls=(0, (6, 3)),
              label='mean SST (area weighted & sea ice free)')
h3, = ax.plot(tdeep_t, tdeep_v, color='#0000FF', lw=1.6, label='mean deep ocean T')
h4, = ax.plot(tocn_t, tocn_v, color='black', lw=4, label='mean ocean T')
ax.set_ylim(-1.9, 30)
style(ax, 5, 2.5, bottom_labels=True)
ax.set_ylabel(r'Temp. ($^o$ C)', fontsize=LAB_FS + 1)
ax.yaxis.set_label_coords(-0.062, 0.5)
ax.set_xlabel('Time (kyr BP)', fontsize=LAB_FS + 2, labelpad=10)
ax.tick_params(axis='x', pad=10)
leg1 = ax.legend(handles=[h1, h2], loc='upper left', frameon=False, fontsize=10.5,
                 handlelength=2.6, borderaxespad=0.3, labelspacing=0.35)
ax.add_artist(leg1)
ax.legend(handles=[h3, h4], loc='upper right', frameon=False, fontsize=10.5,
          handlelength=2.6, borderaxespad=0.3, labelspacing=0.35)
ax.text(0.006, 0.62, 'e', transform=ax.transAxes, fontsize=24, va='center', ha='left')

fig.savefig('out.png', dpi=100)
